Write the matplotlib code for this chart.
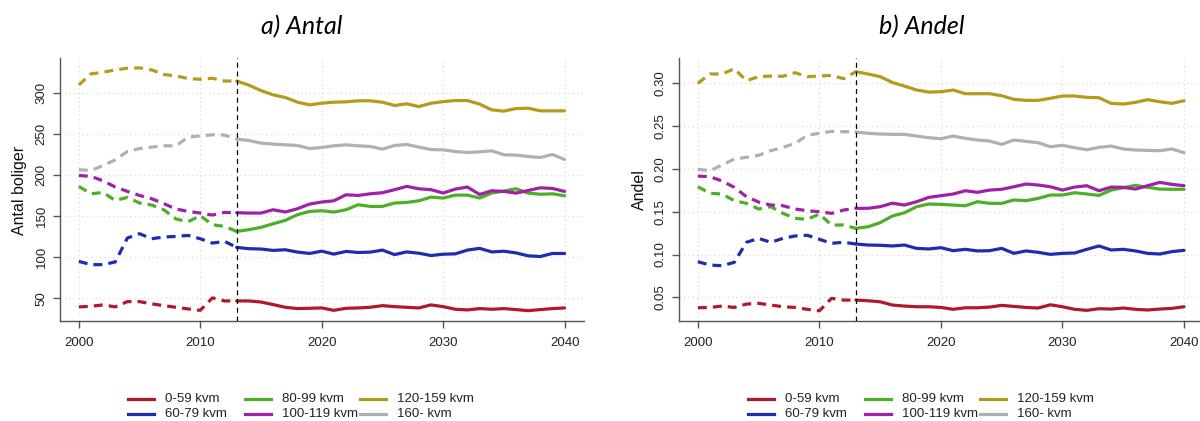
import numpy as np
import matplotlib
matplotlib.use("Agg")
import matplotlib.pyplot as plt
from matplotlib.lines import Line2D

plt.rcParams['font.family'] = ['Liberation Sans', 'DejaVu Sans']

years = np.arange(2000, 2041)
split = 2013  # historical data up to here, projection after

groups = ['0-59 kvm', '60-79 kvm', '80-99 kvm', '100-119 kvm', '120-159 kvm', '160- kvm']
colors = ['#B2182B', '#1E2DB0', '#4CAF26', '#A020A8', '#B39B1E', '#B0B0B0']

# a) number of dwellings per size group
antal_0_59 = [39.6, 40.3, 42.0, 39.6, 46.0, 46.0, 43.2, 41.1, 39.1, 37.1, 35.4, 50.5, 46.8, 46.8,
              46.8, 45.5, 42.4, 39.1, 37.5, 37.9, 38.3, 35.4, 37.9, 38.3, 39.1, 41.1, 39.9, 39.1,
              38.3, 42.0, 39.9, 36.7, 35.9, 37.5, 36.7, 37.5, 36.3, 35.0, 36.3, 37.5, 38.3]
antal_60_79 = [94.9, 90.9, 90.9, 94.2, 123.3, 128.5, 122.4, 124.5, 125.2, 126.4, 122.4, 117.1, 119.2, 111.9,
               110.3, 109.9, 108.2, 109.0, 106.2, 104.5, 107.3, 103.7, 107.0, 105.7, 106.1, 108.6, 103.1, 106.4,
               104.8, 102.0, 103.6, 104.0, 108.6, 110.7, 106.4, 107.2, 105.2, 101.6, 100.8, 104.5, 104.5]
antal_80_99 = [186.0, 177.0, 178.6, 168.9, 172.6, 165.8, 163.3, 157.6, 146.4, 143.1, 150.4, 139.4, 137.4, 131.3,
               133.4, 136.2, 140.6, 144.7, 151.6, 155.6, 156.4, 154.8, 157.6, 163.7, 161.7, 161.7, 165.8, 166.5,
               168.5, 173.0, 171.8, 175.4, 175.4, 171.8, 177.9, 180.3, 183.1, 177.9, 176.4, 177.0, 174.6]
antal_100_119 = [199.3, 198.1, 192.8, 185.2, 179.9, 175.0, 171.0, 165.0, 158.5, 155.6, 153.6, 151.2, 154.4, 154.0,
                 153.6, 153.6, 157.6, 154.9, 158.8, 164.5, 167.0, 168.5, 175.8, 175.0, 177.0, 178.3, 182.0, 186.0,
                 183.1, 182.0, 177.9, 182.7, 185.2, 176.2, 180.7, 179.9, 177.9, 181.0, 184.3, 183.5, 179.9]
antal_120_159 = [309.3, 322.7, 324.7, 327.5, 329.6, 330.0, 327.5, 322.0, 320.2, 317.0, 316.2, 317.4, 314.0, 314.0,
                 309.0, 302.4, 297.2, 294.0, 288.4, 285.0, 287.1, 288.3, 288.7, 290.0, 290.0, 288.3, 284.3, 286.3,
                 283.0, 287.0, 289.0, 290.3, 290.3, 286.0, 279.0, 277.4, 280.6, 281.0, 277.8, 277.8, 277.8]
antal_160 = [206.2, 205.4, 211.4, 218.3, 228.4, 232.0, 233.7, 235.3, 235.3, 245.8, 247.4, 248.7, 248.3, 243.4,
             241.8, 238.6, 237.4, 236.5, 235.7, 232.0, 233.3, 235.3, 236.5, 235.3, 234.5, 231.3, 235.7, 236.9,
             233.7, 230.8, 230.4, 228.4, 227.2, 228.0, 229.2, 224.4, 224.0, 222.3, 221.1, 224.8, 218.7]

# b) share of dwellings per size group
andel_0_59 = [0.0378, 0.0382, 0.0398, 0.0382, 0.0421, 0.0430, 0.0410, 0.0390, 0.0382, 0.0360, 0.0343, 0.0488, 0.0468, 0.0468,
              0.0460, 0.0448, 0.0410, 0.0398, 0.0390, 0.0390, 0.0382, 0.0360, 0.0378, 0.0378, 0.0386, 0.0406, 0.0394, 0.0382,
              0.0375, 0.0413, 0.0390, 0.0360, 0.0348, 0.0367, 0.0363, 0.0375, 0.0360, 0.0352, 0.0363, 0.0371, 0.0390]
andel_60_79 = [0.0916, 0.0877, 0.0869, 0.0909, 0.1143, 0.1189, 0.1143, 0.1189, 0.1217, 0.1225, 0.1178, 0.1131, 0.1143, 0.1123,
               0.1111, 0.1108, 0.1100, 0.1111, 0.1072, 0.1065, 0.1080, 0.1045, 0.1061, 0.1042, 0.1045, 0.1072, 0.1014, 0.1042,
               0.1026, 0.1002, 0.1014, 0.1018, 0.1061, 0.1100, 0.1053, 0.1061, 0.1042, 0.1014, 0.1006, 0.1034, 0.1049]
andel_80_99 = [0.1792, 0.1715, 0.1707, 0.1629, 0.1598, 0.1532, 0.1559, 0.1481, 0.1423, 0.1411, 0.1473, 0.1345, 0.1345, 0.1306,
               0.1325, 0.1372, 0.1450, 0.1488, 0.1559, 0.1590, 0.1586, 0.1578, 0.1570, 0.1617, 0.1598, 0.1598, 0.1637, 0.1629,
               0.1656, 0.1695, 0.1695, 0.1722, 0.1707, 0.1691, 0.1753, 0.1780, 0.1808, 0.1785, 0.1765, 0.1762, 0.1762]
andel_100_119 = [0.1917, 0.1909, 0.1859, 0.1785, 0.1676, 0.1613, 0.1578, 0.1570, 0.1532, 0.1512, 0.1500, 0.1481, 0.1520, 0.1540,
                 0.1540, 0.1559, 0.1600, 0.1578, 0.1617, 0.1668, 0.1687, 0.1707, 0.1745, 0.1727, 0.1753, 0.1762, 0.1792, 0.1824,
                 0.1812, 0.1792, 0.1753, 0.1788, 0.1804, 0.1745, 0.1788, 0.1785, 0.1765, 0.1804, 0.1843, 0.1820, 0.1804]
andel_120_159 = [0.3000, 0.3109, 0.3109, 0.3171, 0.3031, 0.3078, 0.3085, 0.3082, 0.3124, 0.3078, 0.3085, 0.3093, 0.3054, 0.3136,
                 0.3109, 0.3078, 0.3010, 0.2968, 0.2922, 0.2898, 0.2902, 0.2922, 0.2879, 0.2879, 0.2879, 0.2855, 0.2813, 0.2801,
                 0.2801, 0.2825, 0.2852, 0.2852, 0.2836, 0.2832, 0.2766, 0.2758, 0.2778, 0.2809, 0.2785, 0.2766, 0.2797]
andel_160 = [0.1995, 0.1979, 0.2046, 0.2116, 0.2135, 0.2159, 0.2213, 0.2252, 0.2299, 0.2393, 0.2416, 0.2439, 0.2435, 0.2431,
             0.2416, 0.2408, 0.2404, 0.2404, 0.2384, 0.2365, 0.2353, 0.2384, 0.2357, 0.2338, 0.2326, 0.2287, 0.2338, 0.2322,
             0.2306, 0.2259, 0.2276, 0.2248, 0.2224, 0.2252, 0.2267, 0.2233, 0.2221, 0.2217, 0.2213, 0.2233, 0.2189]

antal = [antal_0_59, antal_60_79, antal_80_99, antal_100_119, antal_120_159, antal_160]
andel = [andel_0_59, andel_60_79, andel_80_99, andel_100_119, andel_120_159, andel_160]

W, H = 1200, 421
fig = plt.figure(figsize=(W / 100, H / 100), dpi=100)


def px(x0, y0, x1, y1):
    return [x0 / W, 1 - y1 / H, (x1 - x0) / W, (y1 - y0) / H]


def panel(rect, series, ylim, yticks, ytick_fmt):
    ax = fig.add_axes(rect)
    i0 = int(np.where(years == split)[0][0])
    for vals, c in zip(series, colors):
        v = np.asarray(vals)
        ax.plot(years[:i0 + 1], v[:i0 + 1], color=c, lw=2.3, dashes=(2.8, 1.9),
                dash_capstyle='butt', zorder=3)
        ax.plot(years[i0:], v[i0:], color=c, lw=2.3, solid_capstyle='round', zorder=3)
    ax.axvline(split, color='black', lw=0.9, ls=(0, (4, 3)), zorder=4)
    ax.set_xlim(1998.45, 2041.6)
    ax.set_ylim(*ylim)
    ax.set_xticks([2000, 2010, 2020, 2030, 2040])
    ax.set_yticks(yticks)
    ax.set_yticklabels([ytick_fmt(t) for t in yticks], rotation=90, va='center')
    ax.grid(True, color='#dadada', ls=(0, (1, 2.5)), lw=0.9)
    ax.set_axisbelow(True)
    for s in ['top', 'right']:
        ax.spines[s].set_visible(False)
    for s in ['left', 'bottom']:
        ax.spines[s].set_color('#555555')
        ax.spines[s].set_linewidth(1.0)
    ax.tick_params(axis='both', labelsize=9.5, color='#555555', length=5, width=1.0,
                   labelcolor='#222222')
    ax.tick_params(axis='x', pad=7)
    ax.tick_params(axis='y', pad=4)
    return ax


panel(px(60, 58, 584, 320.7), antal, (22.8, 342), [50, 100, 150, 200, 250, 300],
      lambda t: f'{t:d}')
panel(px(679, 58, 1203.5, 320.7), andel, (0.0227, 0.3296), [0.05, 0.10, 0.15, 0.20, 0.25, 0.30],
      lambda t: f'{t:.2f}')

fig.text(302 / W, 1 - 27 / H, 'a) Antal', family=['Lato', 'DejaVu Sans'], style='italic',
         fontsize=18, ha='center', va='center')
fig.text(922 / W, 1 - 27 / H, 'b) Andel', family=['Lato', 'DejaVu Sans'], style='italic',
         fontsize=18, ha='center', va='center')
fig.text(20 / W, 1 - 190 / H, 'Antal boliger', rotation=90, fontsize=11.5,
         ha='center', va='center', color='#111111')
fig.text(639 / W, 1 - 190 / H, 'Andel', rotation=90, fontsize=11.5,
         ha='center', va='center', color='#111111')

# legends below each panel: three columns, two rows
col_x = [128, 245, 360]
row_y = [399, 414]
for off in (0, 620):
    for k, (g, c) in enumerate(zip(groups, colors)):
        cx = col_x[k // 2] + off
        ry = row_y[k % 2]
        fig.add_artist(Line2D([cx / W, (cx + 26) / W], [1 - ry / H, 1 - ry / H],
                              color=c, lw=2.3, transform=fig.transFigure))
        fig.text((cx + 37) / W, 1 - ry / H, g, fontsize=9.5, ha='left', va='center',
                 color='#222222')

fig.savefig('out.png', dpi=100)
